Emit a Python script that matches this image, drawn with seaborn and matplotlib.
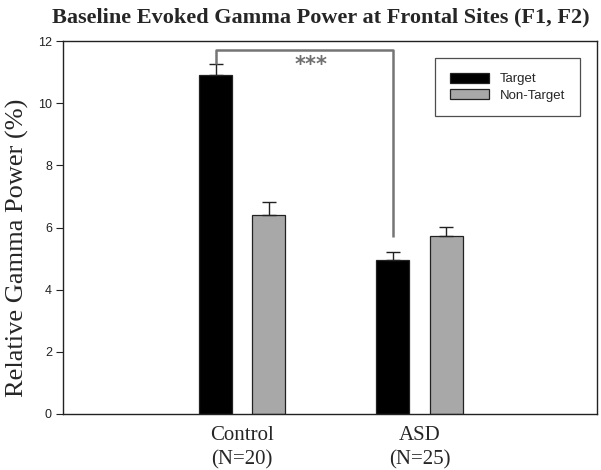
import matplotlib
matplotlib.use("Agg")
import matplotlib.pyplot as plt
import seaborn as sns
import pandas as pd
import numpy as np

groups = ["Control\n(N=20)", "ASD\n(N=25)"]
conditions = ["Target", "Non-Target"]
target_vals = [10.9, 4.95]
nontarget_vals = [6.4, 5.73]
target_err = [0.36, 0.26]
nontarget_err = [0.42, 0.29]
colors = ["#000000", "#a8a8a8"]

df = pd.DataFrame({
    "group": groups * 2,
    "condition": [conditions[0]] * 2 + [conditions[1]] * 2,
    "value": target_vals + nontarget_vals,
    "err": target_err + nontarget_err,
})

sns.set_style("white")
fig = plt.figure(figsize=(6.01, 4.70), dpi=100)
ax = fig.add_axes([63 / 601, 1 - 414 / 470, (597 - 63) / 601, (414 - 41) / 470])

sns.barplot(data=df, x="group", y="value", hue="condition", palette=colors,
            order=groups, hue_order=conditions, width=0.6, gap=0.38,
            edgecolor="#222222", linewidth=0.9, errorbar=None, ax=ax, legend=True)

# error bars (upper only) at bar centers
for cont, cond in zip(ax.containers, conditions):
    sub = df[df["condition"] == cond]
    for patch, (_, row) in zip(cont.patches, sub.iterrows()):
        xc = patch.get_x() + patch.get_width() / 2
        ax.errorbar(xc, row["value"], yerr=[[0], [row["err"]]], fmt="none",
                    ecolor="#222222", elinewidth=1.0, capsize=5, capthick=1.0)

# significance bracket
c_t = ax.containers[0].patches[0]
a_t = ax.containers[0].patches[1]
x1 = c_t.get_x() + c_t.get_width() / 2
x2 = a_t.get_x() + a_t.get_width() / 2
ytop = 11.72
ax.plot([x1, x1, x2, x2], [target_vals[0] + target_err[0], ytop, ytop, 5.69],
        color="#757575", lw=1.8, solid_capstyle="butt")
ax.text((x1 + x2) / 2 + 0.04, 11.22, "***", ha="center", va="center",
        fontsize=15, color="#707070", fontweight="bold")

ax.set_xlim(-1.01, 2.0)
ax.set_ylim(0, 12)
ax.set_yticks([0, 2, 4, 6, 8, 10, 12])
ax.tick_params(axis="y", direction="out", length=5, width=0.8, left=True,
               labelsize=9, pad=3, colors="#222222")
for lab in ax.get_yticklabels():
    lab.set_fontfamily("Liberation Sans")
ax.tick_params(axis="x", length=0, pad=9)
for lab in ax.get_xticklabels():
    lab.set_fontfamily("Liberation Serif")
    lab.set_fontsize(15)
    lab.set_linespacing(1.3)
ax.set_xlabel("")
ax.set_ylabel("Relative Gamma Power (%)", fontfamily="Liberation Serif",
              fontsize=19)
ax.yaxis.set_label_coords(-0.064, 0.445)
for s in ax.spines.values():
    s.set_visible(True)
    s.set_color("#222222")
    s.set_linewidth(1.0)

leg = ax.legend(loc="upper left", bbox_to_anchor=((435 - 63) / 534, (414 - 58) / 373),
                frameon=True, fancybox=False, edgecolor="#222222",
                prop={"family": "Liberation Sans", "size": 9.5},
                handlelength=3.0, handleheight=0.8, borderpad=1.1,
                labelspacing=0.3, handletextpad=0.8, borderaxespad=0)
leg.get_frame().set_linewidth(0.9)

fig.text(0.534, 1 - 17 / 470, "Baseline Evoked Gamma Power at Frontal Sites (F1, F2)",
         ha="center", va="center", fontfamily="Liberation Serif", fontsize=16,
         fontweight="bold")

fig.savefig("out.png", dpi=100)
